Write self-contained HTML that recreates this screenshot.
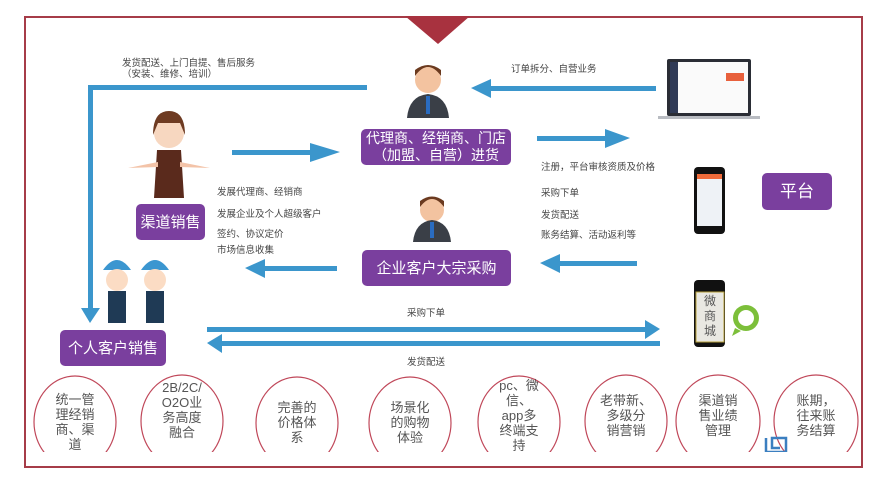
<!DOCTYPE html>
<html><head><meta charset="utf-8"><style>
body{margin:0;background:#fff;}
#c{position:relative;width:894px;height:487px;overflow:hidden;font-family:"Liberation Sans","Noto Sans CJK SC",sans-serif;}
.t{position:absolute;font-size:9.5px;color:#444;white-space:nowrap;line-height:11px}
.b{position:absolute;background:#7a3f9e;color:#fff;border-radius:5px;display:flex;align-items:center;justify-content:center;text-align:center;line-height:17px}
.ct{position:absolute;width:70px;text-align:center;font-size:13px;line-height:15px;color:#555}
</style></head><body><div id="c">
<svg width="894" height="487" style="position:absolute;left:0;top:0">
<defs><clipPath id="cl"><rect x="0" y="0" width="894" height="452"/></clipPath></defs>
<rect x="25" y="17" width="837" height="450" fill="none" stroke="#a63c48" stroke-width="2"/>
<polygon points="405,16 470,16 438,44" fill="#a8323f"/>
<g fill="#3b96cc" stroke="none">
<rect x="88" y="85" width="279" height="5"/>
<rect x="88" y="85" width="5" height="225"/>
<polygon points="81,308 100,308 90,323"/>
<rect x="232" y="150" width="80" height="5"/><polygon points="310,143 310,162 340,152"/>
<rect x="490" y="86" width="166" height="5"/><polygon points="491,79 491,98 471,88"/>
<rect x="537" y="136" width="70" height="5"/><polygon points="605,129 605,148 630,138"/>
<rect x="265" y="266" width="72" height="5"/><polygon points="265,259 265,278 245,268"/>
<rect x="560" y="261" width="77" height="5"/><polygon points="560,254 560,273 540,263"/>
<rect x="207" y="327" width="440" height="5"/><polygon points="645,320 645,339 660,329"/>
<rect x="222" y="341" width="438" height="5"/><polygon points="222,334 222,353 207,343"/>
</g>
<g fill="none" stroke="#c0485a" stroke-width="1.2" clip-path="url(#cl)">
<ellipse cx="75" cy="422" rx="41" ry="46"/><ellipse cx="182" cy="421" rx="41" ry="46"/>
<ellipse cx="297" cy="423" rx="41" ry="46"/><ellipse cx="410" cy="423" rx="41" ry="46"/>
<ellipse cx="519" cy="422" rx="41" ry="46"/><ellipse cx="626" cy="421" rx="41" ry="46"/>
<ellipse cx="718" cy="421" rx="42" ry="46"/><ellipse cx="816" cy="421" rx="42" ry="46"/>
</g>
<g>
<circle cx="428" cy="80" r="13" fill="#f3c3a0"/><path d="M415 76q13-18 26 0v-6q-13-10-26 0z" fill="#6b3a1f"/>
<path d="M407 118q2-22 21-24q19 2 21 24z" fill="#3a3f47"/><rect x="426" y="96" width="4" height="18" fill="#2a6cc0"/>
<circle cx="432" cy="210" r="12" fill="#f3c3a0"/><path d="M420 207q12-16 24 0v-6q-12-9-24 0z" fill="#6b3a1f"/>
<path d="M413 242q2-20 19-22q17 2 19 22z" fill="#3a3f47"/><rect x="430" y="222" width="4" height="16" fill="#2a6cc0"/>
<circle cx="169" cy="133" r="15" fill="#f7d7c0"/><path d="M153 135q0-24 16-24q16 0 16 24l-5-12h-22z" fill="#6e3b22"/>
<path d="M157 150h24l3 48h-30z" fill="#5a2a1c"/><path d="M128 168l30-6 0 5zM210 168l-30-6 0 5z" fill="#f3c3a8"/>
<g fill="#3b96d0"><path d="M103 270q14-20 28 0z"/><path d="M141 270q14-20 28 0z"/></g>
<circle cx="117" cy="280" r="11" fill="#fbdcc4"/><circle cx="155" cy="280" r="11" fill="#fbdcc4"/>
<rect x="108" y="291" width="18" height="32" fill="#1f3a55"/><rect x="146" y="291" width="18" height="32" fill="#1f3a55"/>
</g>
<rect x="667" y="59" width="84" height="57" fill="#2a2d35" rx="2"/><rect x="670" y="62" width="78" height="51" fill="#fafafa"/>
<rect x="670" y="62" width="8" height="51" fill="#2f3a56"/><rect x="726" y="73" width="18" height="8" fill="#e8603c"/>
<rect x="658" y="116" width="102" height="3" fill="#b9bcc2"/>
<rect x="694" y="167" width="31" height="67" rx="4" fill="#111"/><rect x="697" y="174" width="25" height="52" fill="#eef2f6"/>
<rect x="697" y="174" width="25" height="5" fill="#ef6b3a"/>
<rect x="694" y="280" width="31" height="67" rx="4" fill="#111"/><rect x="696" y="292" width="28" height="50" fill="#e9e8e2" stroke="#b8a03a"/>
<circle cx="746" cy="318" r="13" fill="#7cbf3a"/><circle cx="746" cy="318" r="8" fill="#fff"/><path d="M735 328l-3 8 9-5z" fill="#7cbf3a"/>
<path d="M766 438v14h20v-14h-14v10h8" fill="none" stroke="#3b7fc0" stroke-width="2.5" clip-path="url(#cl)"/>
</svg>
<div class="t" style="left:122px;top:58px">发货配送、上门自提、售后服务<br>（安装、维修、培训）</div>
<div class="t" style="left:511px;top:64px">订单拆分、自营业务</div>
<div class="t" style="left:541px;top:162px">注册，平台审核资质及价格</div>
<div class="t" style="left:541px;top:188px">采购下单</div>
<div class="t" style="left:541px;top:210px">发货配送</div>
<div class="t" style="left:541px;top:230px">账务结算、活动返利等</div>
<div class="t" style="left:217px;top:187px">发展代理商、经销商</div>
<div class="t" style="left:217px;top:209px">发展企业及个人超级客户</div>
<div class="t" style="left:217px;top:229px">签约、协议定价</div>
<div class="t" style="left:217px;top:245px">市场信息收集</div>
<div class="t" style="left:407px;top:308px">采购下单</div>
<div class="t" style="left:407px;top:357px">发货配送</div>
<div class="b" style="left:361px;top:129px;width:150px;height:36px;font-size:14px">代理商、经销商、门店<br>（加盟、自营）进货</div>
<div class="b" style="left:362px;top:250px;width:149px;height:36px;font-size:15px">企业客户大宗采购</div>
<div class="b" style="left:136px;top:204px;width:69px;height:36px;font-size:15px">渠道销售</div>
<div class="b" style="left:60px;top:330px;width:106px;height:36px;font-size:15px">个人客户销售</div>
<div class="b" style="left:762px;top:173px;width:70px;height:37px;font-size:17px">平台</div>
<div style="position:absolute;left:697px;top:293px;width:26px;text-align:center;font-size:12px;line-height:15px;color:#555;font-family:'Noto Sans CJK SC',sans-serif">微<br>商<br>城</div>
<div style="position:absolute;left:26px;top:376px;width:835px;height:76px;overflow:hidden">
<div class="ct" style="left:14px;top:16px">统一管<br>理经销<br>商、渠<br>道</div>
<div class="ct" style="left:121px;top:4px">2B/2C/<br>O2O业<br>务高度<br>融合</div>
<div class="ct" style="left:236px;top:24px">完善的<br>价格体<br>系</div>
<div class="ct" style="left:349px;top:24px">场景化<br>的购物<br>体验</div>
<div class="ct" style="left:458px;top:2px">pc、微<br>信、<br>app多<br>终端支<br>持</div>
<div class="ct" style="left:565px;top:17px">老带新、<br>多级分<br>销营销</div>
<div class="ct" style="left:657px;top:17px">渠道销<br>售业绩<br>管理</div>
<div class="ct" style="left:755px;top:17px">账期，<br>往来账<br>务结算</div>
</div>
</div></body></html>
